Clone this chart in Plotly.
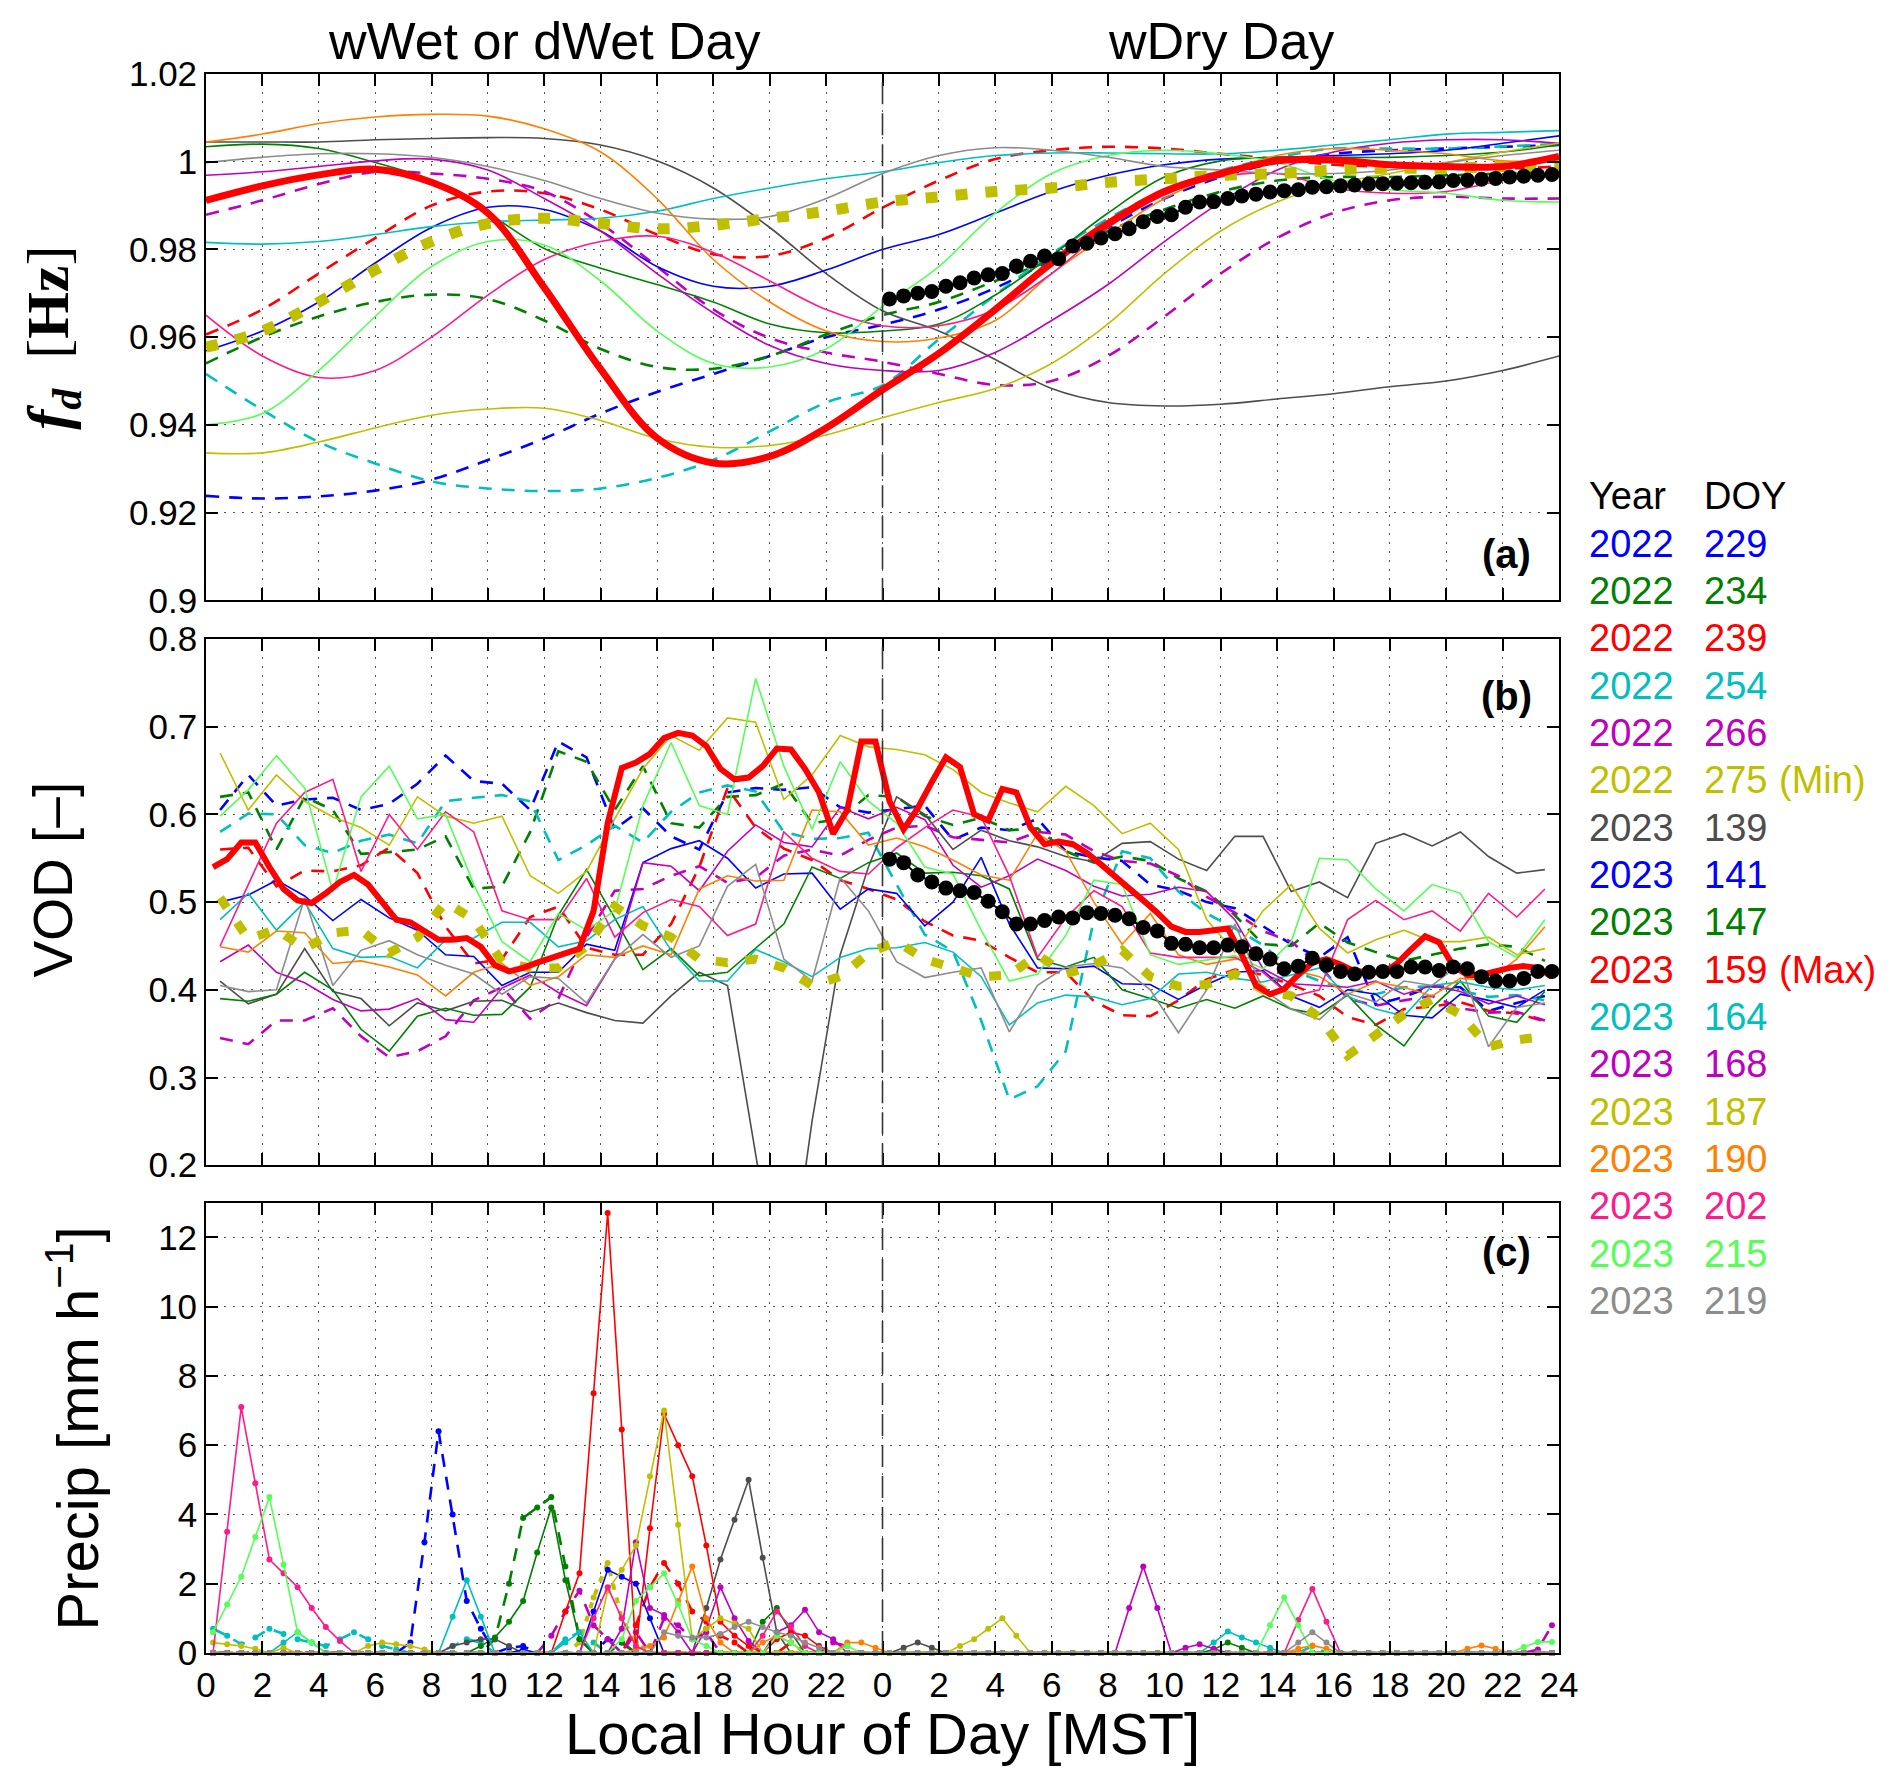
import plotly.graph_objects as go

FONT = "Liberation Sans, Arial, Helvetica, sans-serif"

# ---------------------------------------------------------------- hours
FD_HOURS = list(range(0, 49, 2))                 # panel (a) curves
VOD_HOURS = [0.5 + k for k in range(48)]         # hourly VOD values
HALF_HOURS = [0.25 + 0.5 * k for k in range(96)]  # half-hour samples
DRY_HALF_HOURS = HALF_HOURS[48:]

TICK_VALS = list(range(0, 49, 2))
TICK_TEXT = [str(h) for h in range(0, 24, 2)] + [str(h) for h in range(0, 25, 2)]

# ---------------------------------------------------------------- (a) f_d [Hz]
FD_2022_229 = [0.9238, 0.9232, 0.9237, 0.925, 0.9275, 0.932, 0.9369, 0.9426, 0.9475, 0.9516, 0.9557, 0.96, 0.9628,
               0.9663, 0.9712, 0.9777, 0.985, 0.9916, 0.9965, 0.9998, 1.0018, 1.0026, 1.003, 1.0034, 1.0038]
FD_2022_234 = [0.954, 0.96, 0.9647, 0.968, 0.9697, 0.9687, 0.9638, 0.9573, 0.9532, 0.9528, 0.9557, 0.9606, 0.965,
               0.968, 0.9728, 0.9777, 0.9842, 0.9891, 0.9932, 0.9957, 0.9965, 0.9965, 0.9969, 0.9973, 0.9977]
FD_2022_239 = [0.9606, 0.9663, 0.9745, 0.9826, 0.99, 0.9932, 0.9928, 0.9891, 0.9834, 0.9789, 0.9785, 0.9826, 0.9895,
               0.9957, 1.0006, 1.0026, 1.0034, 1.003, 1.0018, 1.0006, 0.9993, 0.9989, 0.9989, 0.9985, 0.9989]
FD_2022_254 = [0.9516, 0.9434, 0.9361, 0.9312, 0.9271, 0.9255, 0.9249, 0.9255, 0.9279, 0.932, 0.9385, 0.9451, 0.949,
               0.9595, 0.9696, 0.979, 0.987, 0.9935, 0.998, 1.001, 1.003, 1.003, 1.003, 1.0035, 1.004]
FD_2022_266 = [0.9879, 0.9912, 0.9949, 0.9977, 0.9973, 0.9961, 0.9932, 0.9859, 0.9761, 0.9663, 0.9598, 0.9565, 0.9544,
               0.9516, 0.9491, 0.95, 0.9557, 0.9647, 0.9745, 0.9826, 0.9883, 0.9912, 0.992, 0.9916, 0.9916]
FD_2022_275 = [0.9577, 0.9614, 0.968, 0.9753, 0.9818, 0.9859, 0.9871, 0.9859, 0.9847, 0.9855, 0.9871, 0.9887, 0.9908,
               0.992, 0.9932, 0.994, 0.9953, 0.9961, 0.9969, 0.9973, 0.9981, 0.9985, 0.9985, 0.9989, 0.9993]
FD_2023_139 = [1.0045, 1.0045, 1.0045, 1.005, 1.0053, 1.0055, 1.0053, 1.0038, 1.0002, 0.994, 0.985, 0.9745, 0.966,
               0.9614, 0.9549, 0.9483, 0.9451, 0.9443, 0.9447, 0.9459, 0.9471, 0.9487, 0.95, 0.9524, 0.9557]
FD_2023_141 = [0.9569, 0.9614, 0.968, 0.9769, 0.985, 0.9896, 0.9891, 0.9842, 0.9761, 0.9716, 0.9716, 0.9753, 0.98,
               0.9834, 0.9883, 0.9932, 0.9969, 0.9993, 1.0006, 1.001, 1.0014, 1.0018, 1.0026, 1.0042, 1.0059]
FD_2023_147 = [1.0034, 1.004, 1.003, 0.9998, 0.9957, 0.9883, 0.9802, 0.9757, 0.972, 0.968, 0.963, 0.961, 0.9614,
               0.963, 0.9696, 0.9786, 0.9883, 0.9965, 1.0002, 1.001, 1.001, 1.001, 1.0014, 1.0022, 1.0038]
FD_2023_159 = [0.9912, 0.9945, 0.997, 0.9983, 0.9953, 0.9883, 0.9713, 0.9527, 0.937, 0.9313, 0.9328, 0.9393, 0.948,
               0.9563, 0.9663, 0.9769, 0.9859, 0.9932, 0.9973, 1.0002, 1.0004, 0.9993, 0.9989, 0.9989, 1.0012]
FD_2023_164 = [0.9816, 0.9812, 0.9818, 0.9834, 0.9852, 0.9863, 0.9867, 0.9871, 0.9887, 0.9916, 0.994, 0.9961, 0.9977,
               0.9998, 1.0014, 1.002, 1.002, 1.0018, 1.0018, 1.0026, 1.0038, 1.005, 1.0063, 1.0067, 1.0071]
FD_2023_168 = [0.9969, 0.9977, 0.9989, 1.0002, 1.0006, 0.9981, 0.9916, 0.9842, 0.9745, 0.9655, 0.9581, 0.954, 0.9524,
               0.9524, 0.9565, 0.9638, 0.972, 0.9818, 0.9908, 0.9981, 1.0022, 1.0042, 1.005, 1.005, 1.0042]
FD_2023_187 = [0.9336, 0.9336, 0.9361, 0.9393, 0.9422, 0.9436, 0.9438, 0.941, 0.9369, 0.9349, 0.9353, 0.9377, 0.9416,
               0.9451, 0.9483, 0.954, 0.963, 0.9745, 0.9842, 0.9908, 0.9949, 0.9973, 0.9998, 1.0022, 1.0042]
FD_2023_190 = [1.0045, 1.0063, 1.0087, 1.0102, 1.0108, 1.0104, 1.0075, 1.0022, 0.9916, 0.9777, 0.968, 0.9614, 0.959,
               0.9598, 0.9638, 0.9745, 0.9834, 0.9916, 0.9973, 1.0014, 1.003, 1.0026, 1.0018, 1.0002, 1.0002]
FD_2023_202 = [0.965, 0.9557, 0.9508, 0.9524, 0.96, 0.9696, 0.9777, 0.9818, 0.983, 0.9793, 0.9728, 0.9663, 0.9626,
               0.9626, 0.9663, 0.9745, 0.985, 0.9924, 0.9965, 0.9973, 0.994, 0.9928, 0.9932, 0.9957, 0.9973]
FD_2023_215 = [0.94, 0.9426, 0.9524, 0.9647, 0.9761, 0.9818, 0.981, 0.9728, 0.9614, 0.954, 0.9532, 0.9573, 0.967,
               0.9761, 0.9883, 0.9973, 1.0014, 1.0026, 1.0018, 0.9998, 0.9957, 0.9936, 0.9928, 0.9912, 0.9908]
FD_2023_219 = [0.9998, 1.001, 1.0018, 1.0018, 1.001, 0.9989, 0.9957, 0.9916, 0.9883, 0.9869, 0.9875, 0.9916, 0.9973,
               1.0014, 1.0032, 1.0026, 1.001, 0.9989, 0.9981, 0.9973, 0.9973, 0.9981, 0.9998, 1.0014, 1.0026]
FD_DRY_MEAN = [0.9687, 0.9694, 0.97, 0.9704, 0.9716, 0.9724, 0.9735, 0.9742, 0.9745, 0.9762, 0.9773, 0.9785,
               0.9779, 0.9808, 0.9814, 0.9826, 0.9836, 0.9847, 0.9863, 0.9875, 0.9879, 0.9896, 0.9908, 0.9909,
               0.9916, 0.9922, 0.9926, 0.9931, 0.9934, 0.9936, 0.9942, 0.9943, 0.9945, 0.9947, 0.9949, 0.995,
               0.9951, 0.9952, 0.9953, 0.9954, 0.9957, 0.9958, 0.996, 0.9962, 0.9965, 0.9967, 0.9969, 0.9971]

# ---------------------------------------------------------------- (b) VOD [-]
V_2022_229 = [0.605, 0.645, 0.61, 0.617, 0.619, 0.605, 0.612, 0.635, 0.667, 0.638, 0.635, 0.605, 0.683, 0.665, 0.583,
              0.607, 0.575, 0.56, 0.625, 0.63, 0.628, 0.631, 0.608, 0.602, 0.606, 0.61, 0.571, 0.585, 0.582, 0.595,
              0.558, 0.551, 0.547, 0.52, 0.513, 0.5, 0.493, 0.472, 0.452, 0.437, 0.46, 0.383, 0.392, 0.404, 0.403,
              0.376, 0.385, 0.393]
V_2022_234 = [0.62, 0.625, 0.56, 0.62, 0.605, 0.555, 0.557, 0.56, 0.575, 0.515, 0.518, 0.58, 0.672, 0.66, 0.605,
              0.655, 0.59, 0.585, 0.62, 0.622, 0.635, 0.59, 0.595, 0.622, 0.62, 0.598, 0.588, 0.596, 0.582, 0.584,
              0.558, 0.545, 0.552, 0.547, 0.527, 0.512, 0.485, 0.452, 0.45, 0.476, 0.454, 0.443, 0.433, 0.44, 0.447,
              0.452, 0.449, 0.433]
V_2022_239 = [0.56, 0.562, 0.518, 0.536, 0.535, 0.542, 0.562, 0.533, 0.472, 0.43, 0.435, 0.483, 0.495, 0.448, 0.44,
              0.44, 0.475, 0.54, 0.63, 0.585, 0.561, 0.548, 0.525, 0.515, 0.503, 0.478, 0.462, 0.456, 0.437, 0.42,
              0.42, 0.387, 0.371, 0.37, 0.388, 0.412, 0.423, 0.417, 0.406, 0.393, 0.369, 0.36, 0.378, 0.381, 0.386,
              0.376, 0.373, 0.364]
V_2022_254 = [0.58, 0.601, 0.6, 0.565, 0.556, 0.57, 0.577, 0.567, 0.615, 0.619, 0.622, 0.615, 0.548, 0.565, 0.587,
              0.568, 0.603, 0.625, 0.633, 0.626, 0.58, 0.572, 0.573, 0.579, 0.52, 0.463, 0.444, 0.365, 0.275, 0.29,
              0.33, 0.48, 0.558, 0.55, 0.512, 0.487, 0.47, 0.451, 0.423, 0.41, 0.401, 0.395, 0.403, 0.404, 0.399,
              0.392, 0.394, 0.388]
V_2022_266 = [0.345, 0.338, 0.365, 0.365, 0.379, 0.347, 0.323, 0.33, 0.347, 0.388, 0.403, 0.367, 0.39, 0.46, 0.513,
              0.515, 0.53, 0.541, 0.522, 0.528, 0.553, 0.56, 0.553, 0.571, 0.585, 0.587, 0.574, 0.571, 0.568, 0.58,
              0.577, 0.558, 0.547, 0.544, 0.53, 0.506, 0.488, 0.467, 0.455, 0.428, 0.39, 0.382, 0.388, 0.393, 0.379,
              0.374, 0.375, 0.365]
V_2022_275 = [0.505, 0.458, 0.469, 0.447, 0.465, 0.468, 0.442, 0.46, 0.5, 0.48, 0.432, 0.425, 0.425, 0.45, 0.495,
              0.473, 0.46, 0.435, 0.431, 0.435, 0.425, 0.405, 0.415, 0.442, 0.455, 0.435, 0.425, 0.415, 0.417, 0.44,
              0.418, 0.428, 0.445, 0.415, 0.404, 0.406, 0.418, 0.4, 0.393, 0.368, 0.325, 0.347, 0.372, 0.389, 0.372,
              0.335, 0.343, 0.347]
V_2023_139 = [0.41, 0.384, 0.395, 0.447, 0.398, 0.39, 0.359, 0.385, 0.376, 0.387, 0.388, 0.375, 0.385, 0.374, 0.365,
              0.362, 0.393, 0.42, 0.405, 0.21, 0.02, 0.25, 0.44, 0.54, 0.62, 0.6, 0.56, 0.582, 0.57, 0.563, 0.552,
              0.546, 0.567, 0.569, 0.549, 0.536, 0.575, 0.575, 0.512, 0.523, 0.505, 0.567, 0.578, 0.564, 0.58, 0.552,
              0.533, 0.537]
V_2023_141 = [0.5, 0.508, 0.525, 0.507, 0.479, 0.503, 0.482, 0.468, 0.44, 0.438, 0.405, 0.42, 0.42, 0.452, 0.445,
              0.545, 0.561, 0.57, 0.55, 0.516, 0.532, 0.533, 0.492, 0.515, 0.51, 0.473, 0.5, 0.551, 0.475, 0.425,
              0.424, 0.427, 0.407, 0.406, 0.389, 0.406, 0.42, 0.422, 0.393, 0.38, 0.4, 0.395, 0.371, 0.368, 0.395,
              0.388, 0.38, 0.4]
V_2023_147 = [0.39, 0.387, 0.395, 0.42, 0.4, 0.355, 0.33, 0.37, 0.379, 0.371, 0.372, 0.403, 0.485, 0.537, 0.482,
              0.423, 0.447, 0.416, 0.42, 0.447, 0.475, 0.54, 0.527, 0.545, 0.556, 0.533, 0.534, 0.53, 0.515, 0.435,
              0.426, 0.437, 0.4, 0.39, 0.379, 0.389, 0.379, 0.393, 0.378, 0.372, 0.394, 0.36, 0.336, 0.38, 0.41,
              0.37, 0.363, 0.398]
V_2023_159 = [0.54, 0.549, 0.568, 0.568, 0.54, 0.515, 0.502, 0.499, 0.51, 0.523, 0.531, 0.52, 0.5, 0.48, 0.477,
              0.467, 0.457, 0.457, 0.459, 0.449, 0.428, 0.421, 0.425, 0.431, 0.436, 0.441, 0.447, 0.49, 0.59, 0.653,
              0.659, 0.669, 0.687, 0.693, 0.69, 0.678, 0.652, 0.64, 0.642, 0.655, 0.675, 0.674, 0.652, 0.625, 0.578,
              0.605, 0.683, 0.683,
              0.615, 0.583, 0.607, 0.637, 0.665, 0.654, 0.6, 0.593, 0.629, 0.625, 0.585, 0.566, 0.569, 0.566, 0.556,
              0.543, 0.53, 0.515, 0.502, 0.488, 0.472, 0.466, 0.466, 0.468, 0.47, 0.44, 0.405, 0.395, 0.401, 0.417,
              0.431, 0.435, 0.429, 0.421, 0.421, 0.419, 0.43, 0.446, 0.461, 0.454, 0.427, 0.417, 0.417, 0.421, 0.425,
              0.427, 0.425, 0.415]
V_2023_164 = [0.48, 0.51, 0.468, 0.5, 0.447, 0.437, 0.438, 0.425, 0.457, 0.459, 0.477, 0.477, 0.449, 0.456, 0.48,
              0.495, 0.445, 0.41, 0.41, 0.446, 0.432, 0.415, 0.437, 0.447, 0.448, 0.454, 0.443, 0.415, 0.36, 0.385,
              0.394, 0.392, 0.383, 0.39, 0.418, 0.42, 0.413, 0.409, 0.417, 0.425, 0.393, 0.378, 0.37, 0.405, 0.409,
              0.403, 0.4, 0.405]
V_2023_168 = [0.432, 0.451, 0.42, 0.408, 0.389, 0.376, 0.378, 0.39, 0.366, 0.363, 0.402, 0.417, 0.397, 0.382, 0.435,
              0.545, 0.541, 0.513, 0.558, 0.588, 0.568, 0.563, 0.608, 0.595, 0.608, 0.594, 0.542, 0.517, 0.53, 0.549,
              0.536, 0.518, 0.507, 0.509, 0.517, 0.512, 0.48, 0.424, 0.407, 0.405, 0.403, 0.41, 0.395, 0.405, 0.398,
              0.384, 0.393, 0.383]
V_2023_187 = [0.67, 0.605, 0.645, 0.615, 0.597, 0.585, 0.565, 0.62, 0.598, 0.59, 0.598, 0.53, 0.51, 0.535, 0.595,
              0.652, 0.69, 0.673, 0.71, 0.705, 0.617, 0.645, 0.69, 0.677, 0.674, 0.668, 0.651, 0.625, 0.613, 0.603,
              0.632, 0.61, 0.578, 0.59, 0.56, 0.48, 0.443, 0.49, 0.52, 0.47, 0.442, 0.457, 0.468, 0.455, 0.455, 0.46,
              0.44, 0.447]
V_2023_190 = [0.449, 0.443, 0.467, 0.465, 0.43, 0.433, 0.426, 0.417, 0.393, 0.42, 0.43, 0.405, 0.415, 0.44, 0.437,
              0.45, 0.44, 0.515, 0.53, 0.524, 0.525, 0.605, 0.603, 0.565, 0.573, 0.563, 0.548, 0.531, 0.525, 0.578,
              0.558, 0.5, 0.452, 0.487, 0.44, 0.429, 0.435, 0.438, 0.423, 0.415, 0.395, 0.409, 0.403, 0.393, 0.413,
              0.411, 0.435, 0.472]
V_2023_202 = [0.45, 0.52, 0.59, 0.625, 0.64, 0.535, 0.6, 0.56, 0.603, 0.58, 0.49, 0.48, 0.48, 0.527, 0.46, 0.488,
              0.503, 0.495, 0.462, 0.475, 0.58, 0.55, 0.535, 0.532, 0.562, 0.585, 0.605, 0.597, 0.53, 0.437, 0.482,
              0.513, 0.495, 0.442, 0.437, 0.437, 0.437, 0.42, 0.392, 0.4, 0.48, 0.502, 0.48, 0.49, 0.467, 0.51,
              0.483, 0.515]
V_2023_215 = [0.598, 0.628, 0.667, 0.63, 0.512, 0.62, 0.655, 0.595, 0.6, 0.52, 0.455, 0.432, 0.487, 0.468, 0.49,
              0.61, 0.682, 0.61, 0.6, 0.755, 0.655, 0.583, 0.66, 0.615, 0.59, 0.54, 0.532, 0.468, 0.41, 0.418, 0.462,
              0.525, 0.52, 0.44, 0.429, 0.434, 0.439, 0.424, 0.455, 0.55, 0.548, 0.515, 0.49, 0.52, 0.51, 0.455,
              0.437, 0.48]
V_2023_219 = [0.405, 0.398, 0.4, 0.505, 0.405, 0.445, 0.456, 0.44, 0.428, 0.418, 0.395, 0.415, 0.413, 0.385, 0.435,
              0.463, 0.437, 0.45, 0.518, 0.543, 0.435, 0.41, 0.528, 0.49, 0.432, 0.414, 0.42, 0.425, 0.352, 0.405,
              0.426, 0.43, 0.425, 0.4, 0.351, 0.4, 0.475, 0.4, 0.378, 0.366, 0.396, 0.386, 0.41, 0.405, 0.43, 0.335,
              0.38, 0.385]
V_DRY_MEAN = [0.549, 0.545, 0.531, 0.523, 0.516, 0.513, 0.511, 0.501, 0.489, 0.475, 0.475, 0.479, 0.483, 0.482,
              0.488, 0.487, 0.485, 0.481, 0.471, 0.467, 0.453, 0.452, 0.448, 0.448, 0.451, 0.449, 0.441, 0.435,
              0.424, 0.427, 0.436, 0.428, 0.421, 0.418, 0.42, 0.421, 0.421, 0.426, 0.426, 0.422, 0.426, 0.424,
              0.415, 0.41, 0.41, 0.413, 0.421, 0.421]

# ---------------------------------------------------------------- (c) precip, non-zero half-hour readings
P_2022_229 = {7.25: 0.3, 7.75: 3.2, 8.25: 6.4, 8.75: 4.0, 9.25: 1.5, 9.75: 0.7, 10.75: 0.15, 11.25: 0.2,
              14.25: 0.4, 14.75: 0.3}
P_2022_234 = {10.25: 0.4, 10.75: 2.0, 11.25: 3.9, 11.75: 4.2, 12.25: 4.5, 12.75: 2.5, 13.25: 0.4, 14.75: 0.3}
P_2022_239 = {15.25: 0.8, 15.75: 1.9, 16.25: 2.6, 16.75: 2.0, 17.25: 1.2, 17.75: 0.9, 18.25: 0.5, 18.75: 0.3,
              20.75: 0.3}
P_2022_254 = {0.25: 0.7, 0.75: 0.5, 1.25: 0.25, 1.75: 0.45, 2.25: 0.7, 2.75: 0.55, 3.25: 0.4, 3.75: 0.3, 4.25: 0.2,
              4.75: 0.4, 5.25: 0.6, 5.75: 0.4, 6.25: 0.2, 6.75: 0.1, 8.75: 0.2, 9.25: 0.4, 9.75: 0.3, 12.75: 0.4,
              13.25: 0.6, 13.75: 0.3, 39.25: 0.2}
P_2022_266 = {12.25: 0.5, 12.75: 1.2, 13.25: 1.8, 13.75: 0.8, 14.25: 0.4, 15.25: 0.6, 16.25: 1.0, 16.75: 0.8,
              17.25: 0.4, 17.75: 0.6, 22.25: 0.3, 22.75: 0.2, 47.25: 0.1, 47.75: 0.8}
P_2022_275 = {13.25: 0.3, 13.75: 1.6, 14.25: 2.6, 14.75: 1.0, 15.25: 0.3}
P_2023_139 = {8.75: 0.2, 9.25: 0.3, 9.75: 0.4, 10.25: 0.4, 10.75: 0.2, 17.75: 1.3, 18.25: 2.7, 18.75: 3.85,
              19.25: 5.0, 19.75: 2.75, 20.25: 0.6, 24.75: 0.15, 25.25: 0.3, 25.75: 0.15}
P_2023_141 = {11.25: 0.1, 13.75: 1.2, 14.25: 2.4, 14.75: 2.2, 15.25: 2.0, 15.75: 1.0}
P_2023_147 = {9.75: 0.2, 10.25: 0.45, 10.75: 0.9, 11.25: 1.5, 11.75: 2.9, 12.25: 4.2, 12.75: 2.1, 13.25: 0.4,
              19.75: 0.9, 20.25: 1.3, 20.75: 0.6, 35.75: 0.1, 36.25: 0.3, 36.75: 0.15}
P_2023_159 = {12.75: 1.2, 13.25: 2.3, 13.75: 7.5, 14.25: 12.7, 14.75: 6.45, 15.25: 0.1, 15.75: 3.6, 16.25: 6.9,
              16.75: 6.0, 17.25: 5.1, 17.75: 3.1, 18.25: 0.9, 18.75: 0.5, 19.25: 0.2, 20.25: 0.4, 20.75: 0.6,
              21.25: 0.5, 21.75: 0.2}
P_2023_164 = {2.75: 0.3, 3.25: 0.6, 3.75: 0.3, 8.75: 1.05, 9.25: 2.1, 9.75: 1.05, 12.75: 0.3, 13.25: 0.6,
              35.75: 0.3, 36.25: 0.62, 36.75: 0.45, 37.25: 0.3, 37.75: 0.15}
P_2023_168 = {14.75: 0.7, 15.25: 3.2, 15.75: 1.3, 16.25: 1.1, 16.75: 0.6, 17.75: 0.7, 18.25: 1.9, 18.75: 1.0,
              19.25: 0.35, 20.25: 0.6, 20.75: 0.8, 21.25: 1.25, 21.75: 0.6, 22.25: 0.4, 32.75: 1.3, 33.25: 2.5,
              33.75: 1.3, 34.75: 0.15, 35.25: 0.25, 35.75: 0.12}
P_2023_187 = {0.25: 0.3, 0.75: 0.25, 1.25: 0.2, 1.75: 0.12, 2.75: 0.15, 5.75: 0.2, 6.25: 0.3, 6.75: 0.25,
              7.25: 0.2, 7.75: 0.1, 14.25: 1.8, 14.75: 2.4, 15.25: 3.1, 15.75: 5.1, 16.25: 7.0, 16.75: 3.7,
              17.25: 0.4, 17.75: 0.7, 18.25: 1.0, 18.75: 0.85, 19.25: 0.7, 26.75: 0.2, 27.25: 0.4, 27.75: 0.7,
              28.25: 1.0, 28.75: 0.5}
P_2023_190 = {15.25: 0.1, 15.75: 0.2, 16.25: 0.45, 16.75: 1.5, 17.25: 2.5, 17.75: 1.0, 18.25: 0.3, 19.75: 0.3,
              20.25: 0.5, 20.75: 0.3, 22.75: 0.3, 23.25: 0.3, 23.75: 0.15, 38.75: 0.12, 39.25: 0.22, 39.75: 0.12,
              44.75: 0.12, 45.25: 0.22, 45.75: 0.12}
P_2023_202 = {0.75: 3.5, 1.25: 7.1, 1.75: 4.9, 2.25: 2.7, 2.75: 2.3, 3.25: 1.9, 3.75: 1.3, 4.25: 0.75, 4.75: 0.35,
              13.75: 1.0, 14.25: 1.9, 14.75: 1.0, 15.25: 0.2, 19.75: 0.5, 20.25: 1.2, 20.75: 0.75, 21.25: 0.2,
              38.75: 0.95, 39.25: 1.85, 39.75: 0.9}
P_2023_215 = {0.25: 0.6, 0.75: 1.4, 1.25: 2.2, 1.75: 3.35, 2.25: 4.5, 2.75: 2.55, 3.25: 0.6, 3.75: 0.3,
              14.75: 0.4, 15.25: 1.5, 15.75: 1.9, 16.25: 2.3, 16.75: 1.4, 17.25: 0.4, 17.75: 0.2, 20.25: 0.5,
              20.75: 0.3, 22.75: 0.2, 37.75: 0.8, 38.25: 1.6, 38.75: 0.8, 46.75: 0.17, 47.25: 0.32, 47.75: 0.32}
P_2023_219 = {16.25: 0.6, 16.75: 0.5, 17.25: 0.45, 17.75: 0.45, 18.25: 0.55, 18.75: 0.75, 19.25: 0.9, 19.75: 0.75,
              20.25: 0.6, 20.75: 0.5, 21.25: 0.3, 21.75: 0.15, 38.75: 0.3, 39.25: 0.6, 39.75: 0.3}

# ---------------------------------------------------------------- event styles
EVENTS = [
    # year, doy, note, colour, style, fd, vod, precip
    ("2022", "229", "", "#0000FF", "dash", FD_2022_229, V_2022_229, P_2022_229),
    ("2022", "234", "", "#008000", "dash", FD_2022_234, V_2022_234, P_2022_234),
    ("2022", "239", "", "#FF0000", "dash", FD_2022_239, V_2022_239, P_2022_239),
    ("2022", "254", "", "#00BFBF", "dash", FD_2022_254, V_2022_254, P_2022_254),
    ("2022", "266", "", "#BF00BF", "dash", FD_2022_266, V_2022_266, P_2022_266),
    ("2022", "275", "(Min)", "#BFBF00", "dot", FD_2022_275, V_2022_275, P_2022_275),
    ("2023", "139", "", "#4D4D4D", "solid", FD_2023_139, V_2023_139, P_2023_139),
    ("2023", "141", "", "#0000FF", "solid", FD_2023_141, V_2023_141, P_2023_141),
    ("2023", "147", "", "#008000", "solid", FD_2023_147, V_2023_147, P_2023_147),
    ("2023", "159", "(Max)", "#FF0000", "thick", FD_2023_159, V_2023_159, P_2023_159),
    ("2023", "164", "", "#00BFBF", "solid", FD_2023_164, V_2023_164, P_2023_164),
    ("2023", "168", "", "#BF00BF", "solid", FD_2023_168, V_2023_168, P_2023_168),
    ("2023", "187", "", "#BFBF00", "solid", FD_2023_187, V_2023_187, P_2023_187),
    ("2023", "190", "", "#FF8000", "solid", FD_2023_190, V_2023_190, P_2023_190),
    ("2023", "202", "", "#FF1A8C", "solid", FD_2023_202, V_2023_202, P_2023_202),
    ("2023", "215", "", "#55FF55", "solid", FD_2023_215, V_2023_215, P_2023_215),
    ("2023", "219", "", "#8C8C8C", "solid", FD_2023_219, V_2023_219, P_2023_219),
]


def line_style(style, color, panel):
    if style == "dash":
        return dict(color=color, width=2.6, dash="13px,10px")
    if style == "dot":
        if panel == "c":
            return dict(color=color, width=4, dash="6px,8px")
        return dict(color=color, width=11 if panel == "a" else 9, dash="12px,18px")
    if style == "thick":
        if panel == "c":
            return dict(color=color, width=1.6)
        return dict(color=color, width=7 if panel == "a" else 6)
    return dict(color=color, width=1.6)


fig = go.Figure()

# order: thin lines first, then the highlighted min/max days on top
order = [e for e in EVENTS if e[4] not in ("dot", "thick")] + [e for e in EVENTS if e[4] == "dot"] + \
        [e for e in EVENTS if e[4] == "thick"]

for year, doy, note, color, style, fd, vod, precip in order:
    fig.add_trace(go.Scatter(x=FD_HOURS, y=fd, mode="lines", line=line_style(style, color, "a"),
                             line_shape="spline", xaxis="x", yaxis="y", name=f"{year} {doy}"))
    hrs = HALF_HOURS if len(vod) == 96 else VOD_HOURS
    fig.add_trace(go.Scatter(x=hrs, y=vod, mode="lines", line=line_style(style, color, "b"),
                             xaxis="x2", yaxis="y2", name=f"{year} {doy}"))

fig.add_trace(go.Scatter(x=DRY_HALF_HOURS, y=FD_DRY_MEAN, mode="lines+markers",
                         line=dict(color="black", width=2), marker=dict(color="black", size=15),
                         xaxis="x", yaxis="y", name="mean"))
fig.add_trace(go.Scatter(x=DRY_HALF_HOURS, y=V_DRY_MEAN, mode="lines+markers",
                         line=dict(color="black", width=2), marker=dict(color="black", size=15),
                         xaxis="x2", yaxis="y2", name="mean"))

for year, doy, note, color, style, fd, vod, precip in EVENTS:
    p = [precip.get(h, 0.0) for h in HALF_HOURS]
    fig.add_trace(go.Scatter(x=HALF_HOURS, y=p, mode="lines+markers", line=line_style(style, color, "c"),
                             marker=dict(color=color, size=6), cliponaxis=False,
                             xaxis="x3", yaxis="y3", name=f"{year} {doy}"))

AXIS = dict(showline=True, linecolor="black", linewidth=1.8, mirror="ticks", ticks="inside", ticklen=12,
            tickwidth=1.8, tickcolor="black", showgrid=True, gridcolor="#555555", griddash="2px,7px",
            gridwidth=1.2, zeroline=False, tickfont=dict(family=FONT, size=35, color="black"))

XAX = dict(AXIS, range=[0, 48], tickvals=TICK_VALS, ticktext=TICK_TEXT, domain=[0, 1])

fig.update_layout(
    width=1892, height=1783,
    margin=dict(l=206, r=333, t=74, b=130),
    paper_bgcolor="white", plot_bgcolor="white",
    showlegend=False,
    font=dict(family=FONT, size=35, color="black"),
    xaxis=dict(XAX, anchor="y", showticklabels=False),
    xaxis2=dict(XAX, anchor="y2", showticklabels=False, matches="x"),
    xaxis3=dict(XAX, anchor="y3", matches="x"),
    yaxis=dict(AXIS, domain=[0.6667, 1.0], range=[0.9, 1.02],
               tickvals=[0.9, 0.92, 0.94, 0.96, 0.98, 1.0, 1.02],
               ticktext=["0.9", "0.92", "0.94", "0.96", "0.98", "1", "1.02"]),
    yaxis2=dict(AXIS, domain=[0.3089, 0.6422], range=[0.2, 0.8],
                tickvals=[0.2, 0.3, 0.4, 0.5, 0.6, 0.7, 0.8],
                ticktext=["0.2", "0.3", "0.4", "0.5", "0.6", "0.7", "0.8"]),
    yaxis3=dict(AXIS, domain=[0.0, 0.2852], range=[0, 13], tickvals=[0, 2, 4, 6, 8, 10, 12]),
)

# day boundary
for xr, yr in (("x", "y"), ("x2", "y2"), ("x3", "y3")):
    fig.add_shape(type="line", xref=xr, yref=f"{yr} domain", x0=24, x1=24, y0=0, y1=1,
                  line=dict(color="#333333", width=1.6, dash="22px,9px"))

ann = []
ann.append(dict(text="wWet or dWet Day", x=12, xref="x", y=1.0207, yref="paper", showarrow=False,
                font=dict(size=52), xanchor="center", yanchor="middle"))
ann.append(dict(text="wDry Day", x=36, xref="x", y=1.0207, yref="paper", showarrow=False,
                font=dict(size=52), xanchor="center", yanchor="middle"))
ann.append(dict(text="Local Hour of Day [MST]", x=0.5, xref="paper", y=-0.0512, yref="paper", showarrow=False,
                font=dict(size=58), xanchor="center", yanchor="middle"))
ann.append(dict(text="<b><i>f<sub>d</sub></i></b>  [<b>Hz</b>]", x=-0.113, xref="paper", y=0.833, yref="paper",
                showarrow=False, textangle=-90, xanchor="center", yanchor="middle",
                font=dict(family="Liberation Serif, DejaVu Serif, serif", size=60)))
ann.append(dict(text="VOD [\u2013]", x=-0.113, xref="paper", y=0.49, yref="paper", showarrow=False,
                textangle=-90, xanchor="center", yanchor="middle", font=dict(size=55)))
ann.append(dict(text="Precip [mm h<sup>\u22121</sup>]", x=-0.098, xref="paper", y=0.1425, yref="paper",
                showarrow=False, textangle=-90, xanchor="center", yanchor="middle", font=dict(size=58)))

for label, y in (("(a)", 0.6957), ("(b)", 0.606), ("(c)", 0.254)):
    ann.append(dict(text=f"<b>{label}</b>", x=0.961, xref="paper", y=y, yref="paper", showarrow=False,
                    xanchor="center", yanchor="middle", font=dict(size=40)))

# legend written as coloured text
LEG_X_YEAR, LEG_X_DOY, LEG_X_NOTE = 1.0205, 1.1055, 1.1611
LEG_Y0, LEG_STEP = 0.7325, 0.02997
LEG_SIZE = 38
ann.append(dict(text="Year", x=LEG_X_YEAR, xref="paper", y=LEG_Y0, yref="paper", showarrow=False,
                xanchor="left", yanchor="middle", font=dict(size=LEG_SIZE, color="black")))
ann.append(dict(text="DOY", x=LEG_X_DOY, xref="paper", y=LEG_Y0, yref="paper", showarrow=False,
                xanchor="left", yanchor="middle", font=dict(size=LEG_SIZE, color="black")))
for i, (year, doy, note, color, *_rest) in enumerate(EVENTS):
    y = LEG_Y0 - (i + 1) * LEG_STEP
    ann.append(dict(text=year, x=LEG_X_YEAR, xref="paper", y=y, yref="paper", showarrow=False,
                    xanchor="left", yanchor="middle", font=dict(size=LEG_SIZE, color=color)))
    ann.append(dict(text=doy, x=LEG_X_DOY, xref="paper", y=y, yref="paper", showarrow=False,
                    xanchor="left", yanchor="middle", font=dict(size=LEG_SIZE, color=color)))
    if note:
        ann.append(dict(text=note, x=LEG_X_NOTE, xref="paper", y=y, yref="paper", showarrow=False,
                        xanchor="left", yanchor="middle", font=dict(size=LEG_SIZE, color=color)))

fig.update_layout(annotations=ann)

# drop the browser's default page margin so the figure sits at the page corner
fig.write_html("out.html", config={"displayModeBar": False},
               post_script="document.body.style.margin='0';")
